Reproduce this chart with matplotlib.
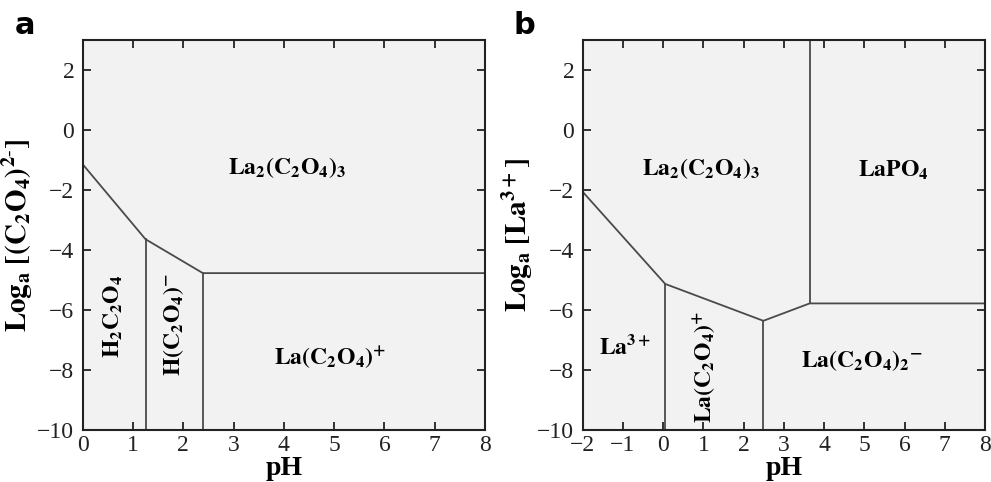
import matplotlib.pyplot as plt

plt.rcParams['font.family'] = ['Liberation Serif', 'DejaVu Serif']
plt.rcParams['mathtext.fontset'] = 'stix'

# panel a boundaries (pH, log a)
a_curve_x = [0, 1.25, 2.39, 8]
a_curve_y = [-1.14, -3.64, -4.77, -4.77]
a_vert_x = [1.25, 2.39]
a_vert_top = [-3.64, -4.77]

# panel b boundaries
b_curve_x = [-2, 0.05, 2.49, 3.64, 8]
b_curve_y = [-2.06, -5.13, -6.36, -5.78, -5.78]
b_vert_x = [0.05, 2.49, 3.64]
b_vert_y0 = [-10, -10, -5.78]
b_vert_y1 = [-5.13, -6.36, 3]

a_labels = [
    (4.06, -1.25, r'$\mathbf{La_2(C_2O_4)_3}$', 0),
    (0.61, -6.2, r'$\mathbf{H_2C_2O_4}$', 90),
    (1.8, -6.5, r'$\mathbf{H(C_2O_4)^{-}}$', 90),
    (4.92, -7.6, r'$\mathbf{La(C_2O_4)^{+}}$', 0),
]
b_labels = [
    (0.93, -1.3, r'$\mathbf{La_2(C_2O_4)_3}$', 0),
    (5.72, -1.35, r'$\mathbf{LaPO_4}$', 0),
    (-0.95, -7.22, r'$\mathbf{La^{3+}}$', 0),
    (1.04, -7.9, r'$\mathbf{La(C_2O_4)^{+}}$', 90),
    (4.94, -7.67, r'$\mathbf{La(C_2O_4)_2{}^{-}}$', 0),
]

line_col = '#4a4a4a'
fig = plt.figure(figsize=(9.91, 4.82), dpi=100)

def style(ax, xlim, xticks, ylabel):
    ax.set_facecolor('#f2f2f2')
    ax.set_xlim(xlim)
    ax.set_ylim(-10, 3)
    ax.set_xticks(xticks)
    ax.set_yticks([-10, -8, -6, -4, -2, 0, 2])
    ax.tick_params(direction='in', top=True, right=True, length=6, width=1.3,
                   labelsize=17, colors='#222222')
    ax.tick_params(axis='x', pad=3.5)
    ax.tick_params(axis='y', pad=6)
    for s in ax.spines.values():
        s.set_linewidth(1.5)
        s.set_color('#222222')
    ax.set_xlabel('pH', fontsize=20, fontweight='bold', labelpad=0)
    ax.set_ylabel(ylabel, fontsize=21, labelpad=2)

ax1 = fig.add_axes([0.0834, 0.1079, 0.406, 0.809])
ax1.plot(a_curve_x, a_curve_y, color=line_col, lw=1.3)
for x, yt in zip(a_vert_x, a_vert_top):
    ax1.plot([x, x], [-10, yt], color=line_col, lw=1.3)
for x, y, t, r in a_labels:
    ax1.text(x, y, t, fontsize=17, rotation=r, ha='center', va='center')
style(ax1, (0, 8), range(0, 9), r'$\mathbf{Log_a\ [(C_2O_4)^{2\text{-}}]}$')

ax2 = fig.add_axes([0.588, 0.1079, 0.406, 0.809])
ax2.plot(b_curve_x, b_curve_y, color=line_col, lw=1.3)
for x, y0, y1 in zip(b_vert_x, b_vert_y0, b_vert_y1):
    ax2.plot([x, x], [y0, y1], color=line_col, lw=1.3)
for x, y, t, r in b_labels:
    ax2.text(x, y, t, fontsize=17, rotation=r, ha='center', va='center')
style(ax2, (-2, 8), range(-2, 9), r'$\mathbf{Log_a\ [La^{3+}]}$')

fig.text(0.015, 0.93, 'a', fontsize=22, fontweight='bold', family='DejaVu Sans')
fig.text(0.518, 0.93, 'b', fontsize=22, fontweight='bold', family='DejaVu Sans')

fig.savefig('out.png', dpi=100)
